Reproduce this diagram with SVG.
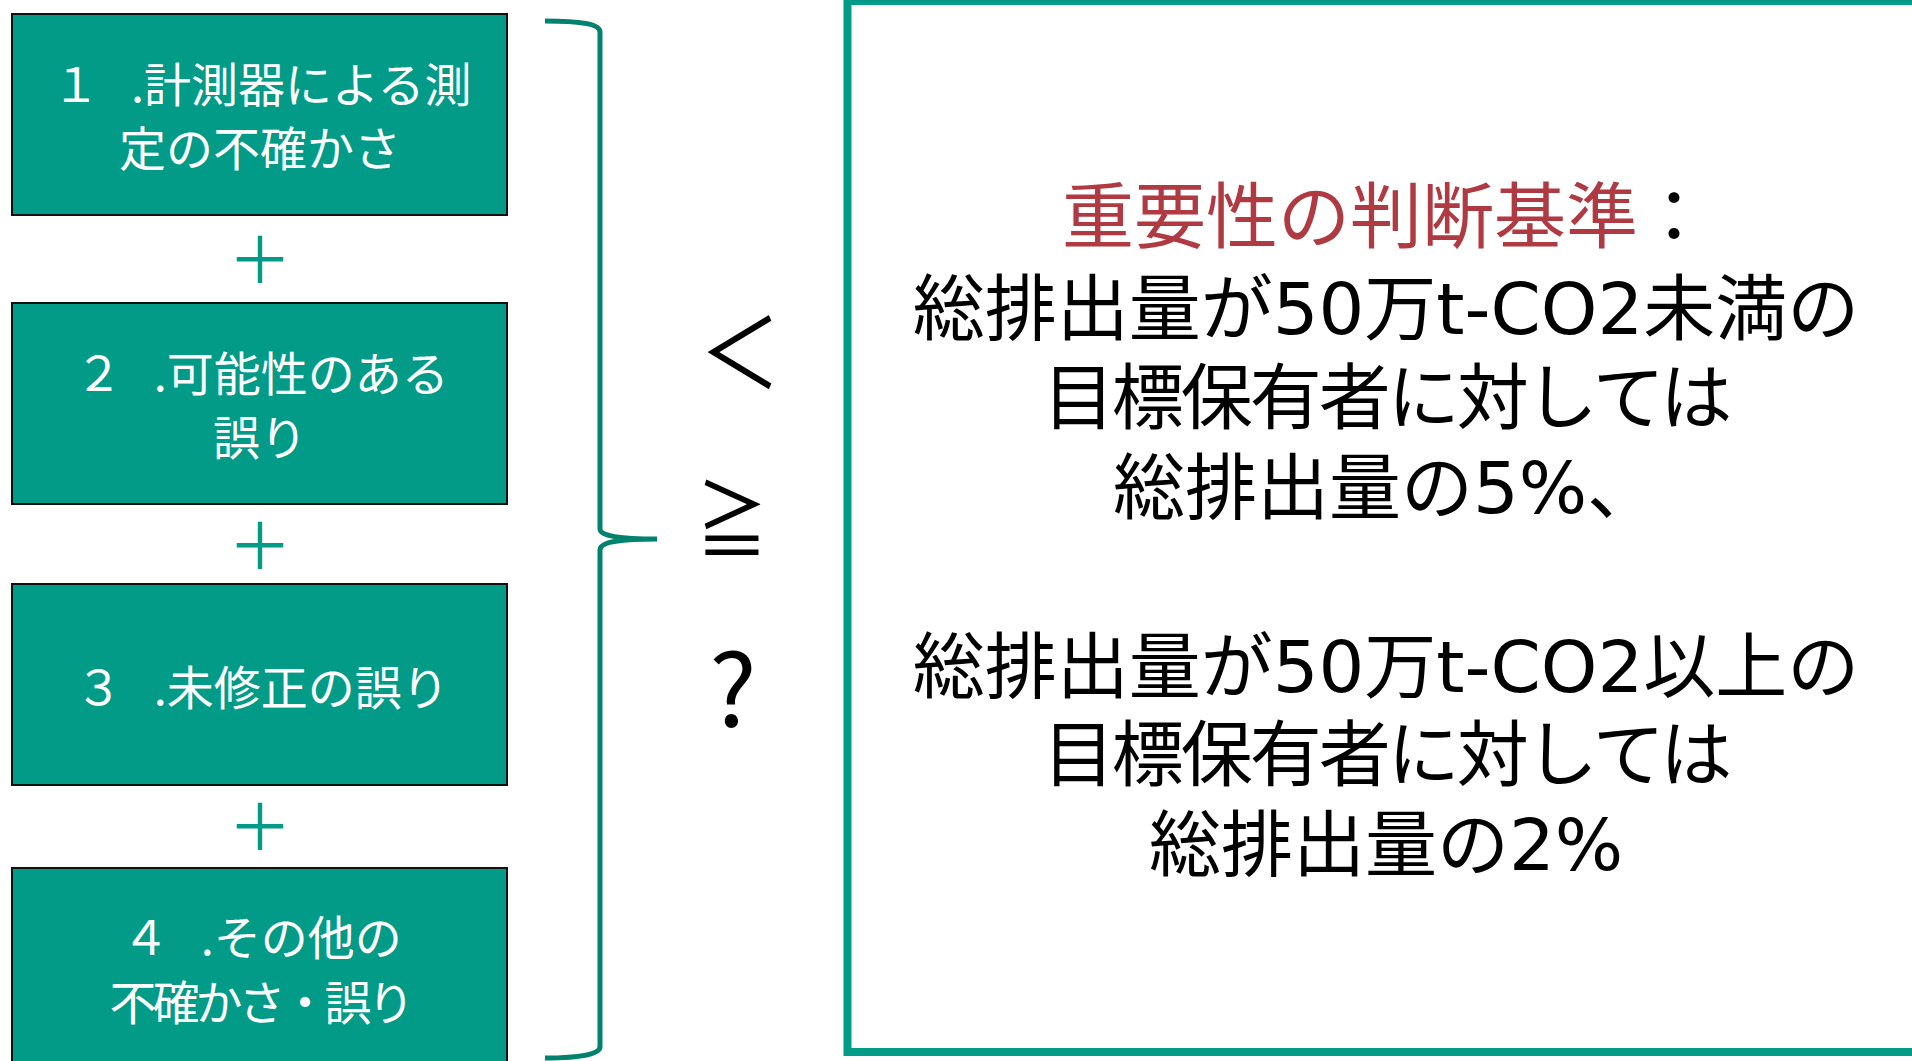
<svg xmlns="http://www.w3.org/2000/svg" width="1912" height="1061" viewBox="0 0 1912 1061">
<style>
.box{fill:#029B88;stroke:#111;stroke-width:2}
.bt{fill:#fff;font-family:"Noto Sans CJK JP","Noto Sans",sans-serif;font-size:47px;font-weight:400;text-anchor:middle}
.plus{fill:#029B88;font-family:"Noto Sans CJK JP",sans-serif;font-size:64px;text-anchor:middle}
.sym{fill:#000;font-family:"Noto Sans CJK JP",sans-serif;text-anchor:middle}
.rt{fill:#000;font-family:"DejaVu Sans","Noto Sans CJK JP",sans-serif;font-size:72px;text-anchor:middle}
.red{fill:#B03A42}
.tight{letter-spacing:-3px}
.tight4{letter-spacing:-4px}
</style>
<rect width="1912" height="1061" fill="#fff"/>
<g id="node1"><rect class="box" x="12" y="14" width="495" height="201"/>
<text class="bt"><tspan x="262" y="102">１&#160;&#160;&#160;.計測器による測</tspan><tspan x="260" y="166">定の不確かさ</tspan></text></g>
<g id="plus1"><text class="plus" x="260" y="283">＋</text></g>
<g id="node2"><rect class="box" x="12" y="303" width="495" height="201"/>
<text class="bt"><tspan x="262" y="391">２&#160;&#160;&#160;.可能性のある</tspan><tspan x="260" y="455">誤り</tspan></text></g>
<g id="plus2"><text class="plus" x="260" y="569">＋</text></g>
<g id="node3"><rect class="box" x="12" y="584" width="495" height="201"/>
<text class="bt" x="262" y="705">３&#160;&#160;&#160;.未修正の誤り</text></g>
<g id="plus3"><text class="plus" x="260" y="850">＋</text></g>
<g id="node4"><rect class="box" x="12" y="868" width="495" height="220"/>
<text class="bt"><tspan x="262" y="955">４&#160;&#160;&#160;.その他の</tspan><tspan class="tight4" x="260" y="1020">不確かさ・誤り</tspan></text></g>
<g id="connectors" fill="none" stroke="#00826F" stroke-width="5" stroke-linecap="butt">
<path d="M545,21 C580,21 600,24 600,32 L600,529 C600,536 620,539 657,539 C620,539 600,542 600,550 L600,1047 C600,1054 580,1058 545,1058"/>
</g>
<g id="symbols">
<text class="sym" font-size="96" transform="translate(740,388) scale(0.85,1)">＜</text>
<text class="sym" font-size="84" transform="translate(732,551) scale(0.85,1)">≧</text>
<text class="sym" x="733" y="727" font-size="100">?</text>
</g>
<g id="criteria">
<rect x="847.5" y="1" width="1080" height="1051" fill="none" stroke="#029B88" stroke-width="8"/>
<text class="rt"><tspan x="1386" y="242"><tspan class="red">重要性の判断基準</tspan>：</tspan><tspan x="1386" y="334">総排出量が50万t-CO2未満の</tspan><tspan class="tight" x="1386" y="423">目標保有者に対しては</tspan><tspan x="1386" y="513">総排出量の5%、</tspan></text>
<text class="rt"><tspan x="1386" y="692">総排出量が50万t-CO2以上の</tspan><tspan class="tight" x="1386" y="780">目標保有者に対しては</tspan><tspan x="1386" y="870">総排出量の2%</tspan></text>
</g>
</svg>
